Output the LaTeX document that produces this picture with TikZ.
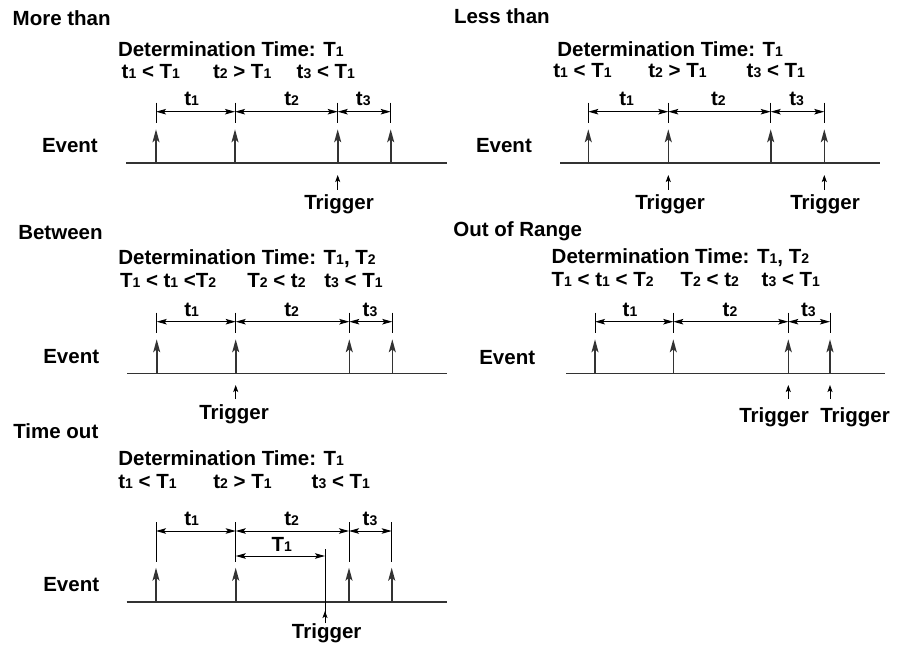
\documentclass[tikz,border=0pt]{standalone}
\usepackage{fontspec}
\setmainfont{Liberation Sans}
\usetikzlibrary{arrows.meta}
\newcommand\dg[1]{{\fontsize{14}{14}\selectfont #1}}
\tikzset{
  lbl/.style={font=\fontsize{20.5}{23}\selectfont\bfseries, inner sep=0pt, outer sep=0pt},
  baseln/.style={line width=1.6pt, draw=black!80},
  evarrow/.style={line width=1.6pt, draw=black!80, -{Stealth[width=7pt,length=13pt,inset=3pt]}},
  tickln/.style={line width=1pt, draw=black},
  dimarrow/.style={line width=1pt, draw=black, {Stealth[width=5.5pt,length=10pt,inset=2pt]}-{Stealth[width=5.5pt,length=10pt,inset=2pt]}},
  trigarrow/.style={line width=0.9pt, draw=black, -{Stealth[width=5pt,length=7pt,inset=1.5pt]}}
}
\newcommand\evpanel[9]{%
  \coordinate (#1L) at (#2,#4);
  \coordinate (#1R) at (#3,#4);
  \draw[baseln] (#1L) -- (#1R);
  \foreach \i/\x in {1/#6,2/#7,3/#8,4/#9}{
    \coordinate (#1b\i) at (\x,#4);
    \coordinate (#1h\i) at (\x,#4-34);
    \coordinate (#1d\i) at (\x,#5);
    \coordinate (#1u\i) at (\x,#5-9);
    \coordinate (#1v\i) at (\x,#4-40);
    \draw[tickln] (#1u\i) -- (#1v\i);
    \draw[evarrow] (#1b\i) -- (#1h\i);
  }
  \draw[dimarrow] (#1d1) -- (#1d2);
  \draw[dimarrow] (#1d2) -- (#1d3);
  \draw[dimarrow] (#1d3) -- (#1d4);
}
\begin{document}
\begin{tikzpicture}[x=1pt,y=-1pt]
\useasboundingbox (0,0) rectangle (897,655);

% ---------------- More than ----------------
\node[lbl,anchor=base west] (p1title) at (12.7,25.6) {More than};
\node[lbl,anchor=base west] (p1det) at (118,56.7) {Determination Time: T\dg{1}};
\node[lbl,anchor=base west] (p1c1) at (121.7,78.3) {t\dg{1} < T\dg{1}};
\node[lbl,anchor=base west] (p1c2) at (213,78.3) {t\dg{2} > T\dg{1}};
\node[lbl,anchor=base west] (p1c3) at (296.7,78.3) {t\dg{3} < T\dg{1}};
\node[lbl,anchor=base west] (p1ev) at (42,153) {Event};
\evpanel{p1}{126}{446.7}{163.3}{111.7}{156}{235}{337.7}{390.7}
\node[lbl,anchor=base] (p1l1) at (191.7,106) {t\dg{1}};
\node[lbl,anchor=base] (p1l2) at (291.7,106) {t\dg{2}};
\node[lbl,anchor=base] (p1l3) at (363.3,106) {t\dg{3}};
\coordinate (p1ta) at (337.7,190);
\coordinate (p1tb) at (337.7,175);
\draw[trigarrow] (p1ta) -- (p1tb);
\node[lbl,anchor=base] (p1trig) at (339,209.5) {Trigger};

% ---------------- Less than ----------------
\node[lbl,anchor=base west] (p2title) at (454,23.3) {Less than};
\node[lbl,anchor=base west] (p2det) at (557.3,56.7) {Determination Time: T\dg{1}};
\node[lbl,anchor=base west] (p2c1) at (553.3,78) {t\dg{1} < T\dg{1}};
\node[lbl,anchor=base west] (p2c2) at (648.3,78) {t\dg{2} > T\dg{1}};
\node[lbl,anchor=base west] (p2c3) at (746.7,78) {t\dg{3} < T\dg{1}};
\node[lbl,anchor=base west] (p2ev) at (476,153) {Event};
\evpanel{p2}{560}{880}{163.3}{111.7}{588.3}{668.3}{770.7}{824.3}
\node[lbl,anchor=base] (p2l1) at (626.7,106) {t\dg{1}};
\node[lbl,anchor=base] (p2l2) at (718.3,106) {t\dg{2}};
\node[lbl,anchor=base] (p2l3) at (796.7,106) {t\dg{3}};
\coordinate (p2ta) at (668.3,190);
\coordinate (p2tb) at (668.3,175);
\draw[trigarrow] (p2ta) -- (p2tb);
\coordinate (p2tc) at (824.3,190);
\coordinate (p2td) at (824.3,175);
\draw[trigarrow] (p2tc) -- (p2td);
\node[lbl,anchor=base] (p2trig1) at (670,209.5) {Trigger};
\node[lbl,anchor=base] (p2trig2) at (825,209.5) {Trigger};

% ---------------- Between ----------------
\node[lbl,anchor=base west] (p3title) at (18.3,239.3) {Between};
\node[lbl,anchor=base west] (p3det) at (118.3,265) {Determination Time: T\dg{1}, T\dg{2}};
\node[lbl,anchor=base west] (p3c1) at (120,287.7) {T\dg{1} < t\dg{1} <T\dg{2}};
\node[lbl,anchor=base west] (p3c2) at (247.3,287.7) {T\dg{2} < t\dg{2}};
\node[lbl,anchor=base west] (p3c3) at (324.3,287.7) {t\dg{3} < T\dg{1}};
\node[lbl,anchor=base west] (p3ev) at (43.3,363) {Event};
\evpanel{p3}{127.3}{446.7}{373.3}{321.7}{156.7}{235.7}{349.3}{392.3}
\node[lbl,anchor=base] (p3l1) at (191.7,316) {t\dg{1}};
\node[lbl,anchor=base] (p3l2) at (291.7,316) {t\dg{2}};
\node[lbl,anchor=base] (p3l3) at (370,316) {t\dg{3}};
\coordinate (p3ta) at (235.7,399);
\coordinate (p3tb) at (235.7,385);
\draw[trigarrow] (p3ta) -- (p3tb);
\node[lbl,anchor=base] (p3trig) at (234,419.5) {Trigger};

% ---------------- Out of Range ----------------
\node[lbl,anchor=base west] (p4title) at (453.3,236.7) {Out of Range};
\node[lbl,anchor=base west] (p4det) at (551.7,263.3) {Determination Time: T\dg{1}, T\dg{2}};
\node[lbl,anchor=base west] (p4c1) at (551.7,286) {T\dg{1} < t\dg{1} < T\dg{2}};
\node[lbl,anchor=base west] (p4c2) at (680.7,286) {T\dg{2} < t\dg{2}};
\node[lbl,anchor=base west] (p4c3) at (761.7,286) {t\dg{3} < T\dg{1}};
\node[lbl,anchor=base west] (p4ev) at (479.3,364) {Event};
\evpanel{p4}{566}{885}{373.3}{321.7}{595}{673.3}{788.3}{830}
\node[lbl,anchor=base] (p4l1) at (630,316) {t\dg{1}};
\node[lbl,anchor=base] (p4l2) at (730,316) {t\dg{2}};
\node[lbl,anchor=base] (p4l3) at (808.3,316) {t\dg{3}};
\coordinate (p4ta) at (788.3,399);
\coordinate (p4tb) at (788.3,385);
\draw[trigarrow] (p4ta) -- (p4tb);
\coordinate (p4tc) at (830,399);
\coordinate (p4td) at (830,385);
\draw[trigarrow] (p4tc) -- (p4td);
\node[lbl,anchor=base] (p4trig1) at (774,422) {Trigger};
\node[lbl,anchor=base] (p4trig2) at (855,422) {Trigger};

% ---------------- Time out ----------------
\node[lbl,anchor=base west] (p5title) at (13.3,438.3) {Time out};
\node[lbl,anchor=base west] (p5det) at (118.3,465) {Determination Time: T\dg{1}};
\node[lbl,anchor=base west] (p5c1) at (118.3,488.3) {t\dg{1} < T\dg{1}};
\node[lbl,anchor=base west] (p5c2) at (213.3,488.3) {t\dg{2} > T\dg{1}};
\node[lbl,anchor=base west] (p5c3) at (311.7,488.3) {t\dg{3} < T\dg{1}};
\node[lbl,anchor=base west] (p5ev) at (43.3,591.7) {Event};
\evpanel{p5}{126.7}{446.7}{601.7}{531}{156}{235.7}{349}{391.7}
\node[lbl,anchor=base] (p5l1) at (191.7,525.5) {t\dg{1}};
\node[lbl,anchor=base] (p5l2) at (291.7,525.5) {t\dg{2}};
\node[lbl,anchor=base] (p5l3) at (370,525.5) {t\dg{3}};
\coordinate (p5s) at (235.7,556);
\coordinate (p5e) at (325,556);
\draw[dimarrow] (p5s) -- (p5e);
\node[lbl,anchor=base] (p5T) at (281.7,551) {T\dg{1}};
\coordinate (p5k) at (325,549);
\coordinate (p5ta) at (325,623);
\coordinate (p5tb) at (325,611);
\draw[tickln] (p5k) -- (p5ta);
\draw[trigarrow] (p5ta) -- (p5tb);
\node[lbl,anchor=base] (p5trig) at (326.7,638) {Trigger};
\end{tikzpicture}
\end{document}
